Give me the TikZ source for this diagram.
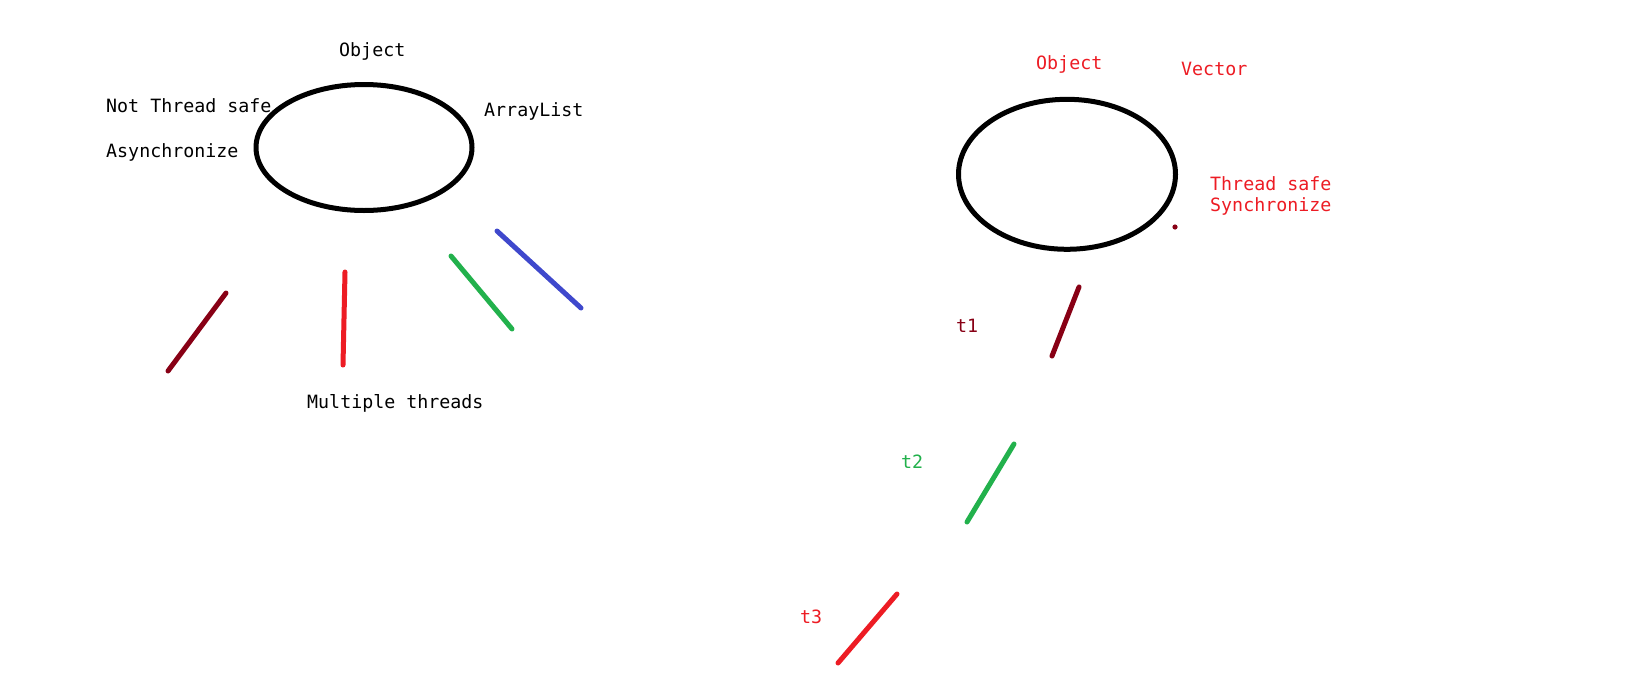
\documentclass[tikz,border=0pt]{standalone}
\usepackage{fontspec}
\setmonofont{DejaVu Sans Mono}
\usetikzlibrary{shapes.geometric}
\definecolor{pdarkred}{RGB}{136,0,21}
\definecolor{pred}{RGB}{237,28,36}
\definecolor{pgreen}{RGB}{34,177,76}
\definecolor{pblue}{RGB}{63,72,204}
\begin{document}
\begin{tikzpicture}[x=1pt, y=-1pt, font=\ttfamily\fontsize{18.3}{22}\selectfont,
        lbl/.style={inner sep=0pt, anchor=base west},
        blob/.style={draw, ellipse, line width=5pt, inner sep=0pt},
        stroke/.style={line width=5pt, line cap=round}]
        \useasboundingbox[fill=white] (0,0) rectangle (1643,686);
        \node[blob, minimum width=216pt, minimum height=126pt] (list) at (364,147.5) {};
        \node[blob, minimum width=217pt, minimum height=150pt] (vec) at (1067,174.3) {};
        \node[lbl] (objL) at (339,56) {Object};
        \node[lbl] (unsafe) at (106,112) {Not Thread safe};
        \node[lbl] (async) at (106,157) {Asynchronize};
        \node[lbl] (alist) at (484,116) {ArrayList};
        \node[lbl] (multi) at (307,408) {Multiple threads};
        \node[lbl, pred] (objR) at (1036,69) {Object};
        \node[lbl, pred] (vname) at (1181,75) {Vector};
        \node[lbl, pred] (safe) at (1210,190) {Thread safe};
        \node[lbl, pred] (sync) at (1210,211) {Synchronize};
        \node[lbl, pdarkred] (t1) at (956,332) {t1};
        \node[lbl, pgreen] (t2) at (901,468) {t2};
        \node[lbl, pred] (t3) at (800,623) {t3};
        \foreach \col/\a/\b in {pdarkred/{226,293}/{168,371}, pred/{345,272}/{343,365},
            pgreen/{451,256}/{512,329}, pblue/{497,231}/{581,308},
            pdarkred/{1079,287}/{1052,356}, pgreen/{1014,444}/{967,522},
            pred/{897,594}/{838,663}}{
                \draw[\col, stroke] (\a) -- (\b);
        }
        \fill[pdarkred] (1175,227) circle[radius=2.6pt];
        \end{tikzpicture}
\end{document}
